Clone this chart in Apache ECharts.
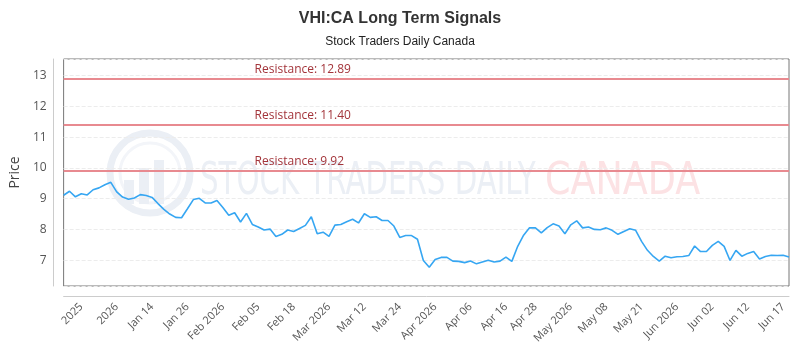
<!DOCTYPE html>
<html>
<head>
<meta charset="utf-8">
<title>VHI:CA Long Term Signals</title>
<script src="https://cdn.jsdelivr.net/npm/echarts@6/dist/echarts.min.js"></script>
<style>
  html, body { margin: 0; padding: 0; background: #fff; }
  #chart { width: 800px; height: 350px; }
</style>
</head>
<body>
<div id="chart"></div>
<script>
// x axis tick labels and the point each one belongs to
const tickLabels = ['2025', '2026', 'Jan 14', 'Jan 26', 'Feb 2026', 'Feb 05', 'Feb 18',
  'Mar 2026', 'Mar 12', 'Mar 24', 'Apr 2026', 'Apr 06', 'Apr 16', 'Apr 28',
  'May 2026', 'May 08', 'May 21', 'Jun 2026', 'Jun 02', 'Jun 12', 'Jun 17']
const tickPoints = [3, 9, 15, 21, 27, 33, 39, 45, 51, 57, 63, 69, 75, 80,
  86, 92, 98, 104, 110, 116, 122]

// closing prices
const closes = [
  9.11, 9.24, 9.06, 9.16, 9.12, 9.29, 9.35, 9.45, 9.53, 9.22,
  9.05, 8.98, 9.02, 9.13, 9.10, 9.04, 8.84, 8.65, 8.50, 8.39,
  8.38, 8.67, 8.97, 9.01, 8.86, 8.86, 8.94, 8.71, 8.46, 8.54,
  8.24, 8.52, 8.16, 8.08, 7.98, 8.01, 7.77, 7.84, 7.98, 7.93,
  8.03, 8.13, 8.41, 7.86, 7.91, 7.77, 8.14, 8.16, 8.25, 8.33,
  8.21, 8.51, 8.39, 8.41, 8.29, 8.29, 8.11, 7.74, 7.80, 7.80,
  7.68, 6.99, 6.77, 7.02, 7.09, 7.09, 6.97, 6.96, 6.92, 6.97,
  6.88, 6.94, 7.00, 6.94, 6.97, 7.10, 6.96, 7.45, 7.81, 8.05,
  8.05, 7.89, 8.06, 8.18, 8.11, 7.86, 8.15, 8.28, 8.05, 8.08,
  8.00, 7.99, 8.05, 7.97, 7.84, 7.93, 8.02, 7.97, 7.61, 7.32,
  7.12, 6.97, 7.13, 7.08, 7.11, 7.12, 7.15, 7.46, 7.28, 7.28,
  7.48, 7.61, 7.45, 6.99, 7.32, 7.13, 7.22, 7.28, 7.04, 7.12,
  7.16, 7.15, 7.16, 7.10
]

const resistance = [12.89, 11.40, 9.92]

const chart = echarts.init(document.getElementById('chart'))

// watermark colours
const wmBlue = '#ebeff5'
const wmRed = '#fce2e4'

const option = {
  animation: false,
  title: {
    text: 'VHI:CA Long Term Signals',
    subtext: 'Stock Traders Daily Canada',
    left: 'center',
    top: 6,
    itemGap: 9,
    textStyle: { fontFamily: 'Liberation Sans', fontSize: 16, fontWeight: 'bold', color: '#333' },
    subtextStyle: { fontFamily: 'Liberation Sans', fontSize: 12, color: '#222' }
  },
  graphic: [
    { type: 'circle', z: 0, shape: { cx: 150, cy: 173, r: 40 },
      style: { fill: 'rgba(0,0,0,0)', stroke: wmBlue, lineWidth: 7 } },
    { type: 'circle', z: 0, shape: { cx: 150, cy: 173, r: 30 },
      style: { fill: 'rgba(0,0,0,0)', stroke: '#f3f5f9', lineWidth: 3 } },
    { type: 'rect', z: 0, shape: { x: 124, y: 180, width: 10, height: 24 }, style: { fill: wmBlue } },
    { type: 'rect', z: 0, shape: { x: 139, y: 168, width: 10, height: 36 }, style: { fill: wmBlue } },
    { type: 'rect', z: 0, shape: { x: 154, y: 160, width: 10, height: 44 }, style: { fill: wmBlue } },
    { type: 'text', z: 0, x: 200, y: 161, scaleX: 0.665,
      style: { text: 'STOCK TRADERS DAILY', fontFamily: 'DejaVu Sans', fontSize: 44, fill: wmBlue } },
    { type: 'text', z: 0, x: 545, y: 161, scaleX: 0.83,
      style: { text: 'CANADA', fontFamily: 'DejaVu Sans', fontSize: 44, fill: wmRed } }
  ],
  grid: {
    left: 61,
    right: 11,
    top: 59,
    bottom: 64,
    show: true,
    borderColor: '#777',
    borderWidth: 1
  },
  xAxis: {
    type: 'category',
    boundaryGap: false,
    offset: 10,
    data: closes.map((v, i) => i),
    axisLine: { lineStyle: { color: '#ccc' } },
    axisTick: { show: false },
    axisLabel: {
      rotate: 45,
      interval: (i) => tickPoints.indexOf(i) >= 0,
      formatter: (value, index) => tickLabels[tickPoints.indexOf(index)] || '',
      color: '#555',
      fontFamily: 'Open Sans',
      fontSize: 11,
      margin: 9
    },
    splitLine: { show: false }
  },
  yAxis: {
    type: 'value',
    min: 6.16,
    max: 13.54,
    splitNumber: 7,
    offset: 10,
    name: 'Price',
    nameLocation: 'middle',
    nameGap: 28,
    nameTextStyle: { fontFamily: 'Open Sans', fontSize: 14, color: '#444' },
    axisLine: { show: true, lineStyle: { color: '#ccc' } },
    axisTick: { show: false },
    axisLabel: {
      showMinLabel: false,
      showMaxLabel: false,
      color: '#555',
      fontFamily: 'Open Sans',
      fontSize: 12,
      margin: 7
    },
    splitLine: { lineStyle: { color: '#ececec', type: 'dashed' } }
  },
  series: [
    {
      type: 'line',
      data: closes,
      symbol: 'none',
      z: 3,
      lineStyle: { color: '#36a6f2', width: 1.6 },
      markLine: {
        silent: true,
        symbol: 'none',
        lineStyle: { color: '#e88a90', width: 2, type: 'solid' },
        label: {
          position: 'insideStartTop',
          distance: [191, 3],
          color: '#a3343a',
          fontFamily: 'Open Sans',
          fontSize: 12,
          formatter: (p) => 'Resistance: ' + p.value.toFixed(2)
        },
        data: resistance.map((v) => ({ yAxis: v }))
      }
    }
  ]
}

chart.setOption(option)
</script>
</body>
</html>
